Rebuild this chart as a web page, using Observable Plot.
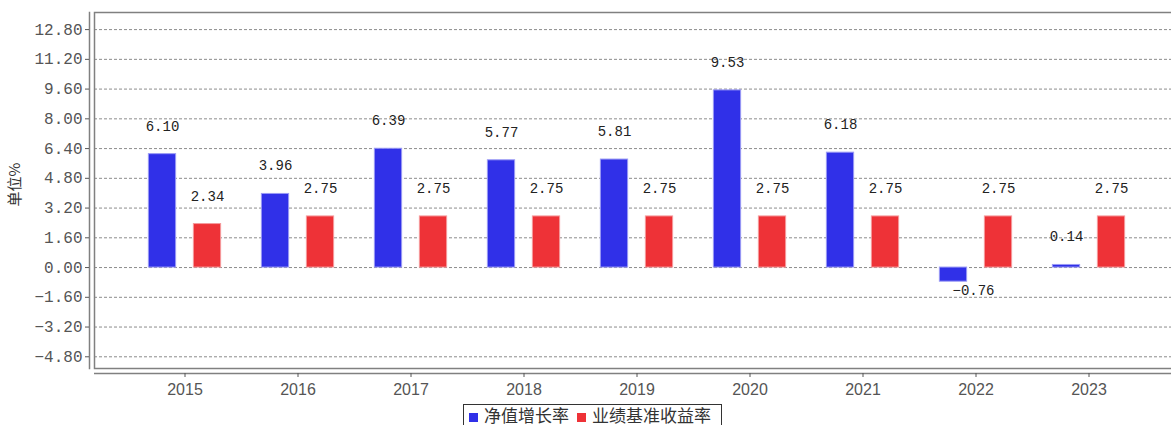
<!DOCTYPE html>
<html>
<head>
<meta charset="utf-8">
<script src="https://cdn.jsdelivr.net/npm/d3@7"></script>
<script src="https://cdn.jsdelivr.net/npm/@observablehq/plot@0.6"></script>
<style>
  html, body { margin: 0; padding: 0; background: #fff; width: 1171px; height: 425px; overflow: hidden; }
  #wrap { position: relative; width: 1171px; height: 425px; }
  #chart svg { display: block; }
  #legend {
    position: absolute; left: 463px; top: 404px; width: 259px; height: 30px;
    border: 1px solid #333; box-sizing: border-box; background: #fff;
    font-family: "Noto Sans CJK SC", sans-serif; font-size: 17px; color: #333;
    white-space: nowrap; line-height: 18px; padding-left: 5px; padding-top: 1px;
  }
  #legend .sw { display: inline-block; width: 9px; height: 9px; margin-right: 6px; vertical-align: 0px; }
  #legend .item { display: inline-block; margin-right: 8px; }
</style>
</head>
<body>
<div id="wrap">
  <div id="chart"></div>
  <div id="legend"></div>
</div>
<script>
// ---- data ----
const years = ["2015", "2016", "2017", "2018", "2019", "2020", "2021", "2022", "2023"];
const navGrowth = [6.10, 3.96, 6.39, 5.77, 5.81, 9.53, 6.18, -0.76, 0.14];
const benchmark = [2.34, 2.75, 2.75, 2.75, 2.75, 2.75, 2.75, 2.75, 2.75];
const seriesNames = ["净值增长率", "业绩基准收益率"];
const seriesColors = ["#3030e8", "#ee3237"];
const yTicks = [-4.8, -3.2, -1.6, 0, 1.6, 3.2, 4.8, 6.4, 8.0, 9.6, 11.2, 12.8];
const yDomain = [-5.43, 13.72];
const yLabel = "单位%";

// ---- table ----
const navData = years.map((year, i) => ({year, value: navGrowth[i]}));
const benchData = years.map((year, i) => ({year, value: benchmark[i]}));
const fmt = d3.format(".2f");

const step = (1146.6 - 127.4) / years.length;
const barW = 27.5;
const inset = (step - barW) / 2;
const off = 22.5;

const chart = Plot.plot({
  width: 1171,
  height: 400,
  marginLeft: 94,
  marginRight: 0,
  marginTop: 12,
  marginBottom: 32,
  style: {fontFamily: "Liberation Mono, monospace", background: "white", overflow: "hidden"},
  x: {type: "band", domain: years, range: [127.4, 1146.6], padding: 0, axis: null},
  y: {domain: yDomain, axis: null},
  marks: [
    Plot.gridY(yTicks, {stroke: "#8c8c8c", strokeOpacity: 1, strokeDasharray: "3,2"}),
    Plot.frame({stroke: "#808080", strokeWidth: 1.5, insetRight: -6}),
    Plot.frame({anchor: "left", dx: -5, stroke: "#808080", strokeWidth: 1.5}),
    Plot.ruleY([yDomain[0]], {dy: 5, stroke: "#808080", strokeWidth: 1.5}),
    Plot.barY(navData, {x: "year", y: "value", fill: seriesColors[0], stroke: "#9a9af5", strokeWidth: 1,
      dx: -off, insetLeft: inset, insetRight: inset}),
    Plot.barY(benchData, {x: "year", y: "value", fill: seriesColors[1], stroke: "#f59a9c", strokeWidth: 1,
      dx: off, insetLeft: inset, insetRight: inset}),
    Plot.text(navData.filter(d => d.value >= 0), {x: "year", y: "value", text: d => fmt(d.value),
      dx: -off, dy: -28, fontSize: 14, fill: "#222"}),
    Plot.text(navData.filter(d => d.value < 0), {x: "year", y: "value", text: d => fmt(d.value),
      dx: -off + 20, dy: 9, fontSize: 14, fill: "#222"}),
    Plot.text(benchData, {x: "year", y: "value", text: d => fmt(d.value),
      dx: off, dy: -28, fontSize: 14, fill: "#222"}),
    Plot.axisY(yTicks, {tickSize: 4, dx: -5, tickPadding: 3, tickFormat: fmt, fontSize: 16,
      color: "#555", label: null}),
    Plot.axisX({tickSize: 4, dy: 5, tickPadding: 6, fontSize: 16, fontFamily: "Liberation Sans, Arial, sans-serif",
      color: "#555", label: null}),
    Plot.text([yLabel], {frameAnchor: "left", dx: -79, dy: 16, rotate: -90, fontSize: 15,
      fontFamily: "Noto Sans CJK SC, sans-serif", fill: "#333"})
  ]
});
document.getElementById("chart").appendChild(chart);

// ---- legend ----
const legend = document.getElementById("legend");
seriesNames.forEach((name, i) => {
  const item = document.createElement("span");
  item.className = "item";
  const sw = document.createElement("span");
  sw.className = "sw";
  sw.style.background = seriesColors[i];
  item.appendChild(sw);
  item.appendChild(document.createTextNode(name));
  legend.appendChild(item);
});
</script>
</body>
</html>
